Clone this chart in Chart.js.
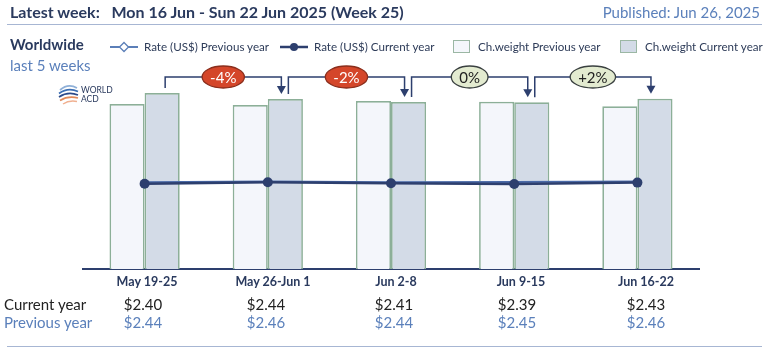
<!DOCTYPE html>
<html>
<head>
  <meta charset="utf-8">
  <title>Worldwide last 5 weeks</title>
  <script src="https://cdn.jsdelivr.net/npm/chart.js"></script>
  <style>
    body{margin:0;background:#fff;font-family:Lato,"Open Sans",sans-serif;}
    #wrap{position:relative;width:770px;height:354px;overflow:hidden;}
    #box{position:absolute;left:0;top:0;width:770px;height:354px;}
    .t{position:absolute;white-space:nowrap;line-height:1;}
    .navy{color:#2a3a5e;}
    .lb{color:#5b80bb;}
    .hr{position:absolute;left:7px;width:755px;height:0;border-top:1.5px solid #a7b6d3;}
    .lg{position:absolute;top:40px;font-size:11.6px;color:#2d3b58;display:flex;align-items:center;white-space:nowrap;}
    .sq{display:inline-block;width:15px;height:11px;border:1px solid #9bb7a4;margin-right:8px;}
    .col{position:absolute;transform:translateX(-50%);white-space:nowrap;line-height:1;}
  </style>
</head>
<body>
<div id="wrap">
  <div id="box"><canvas id="chart"></canvas></div>

  <div class="t navy" style="left:10px;top:4px;font-size:16px;font-weight:bold;">Latest week:&nbsp;&nbsp; Mon 16 Jun - Sun 22 Jun 2025 (Week 25)</div>
  <div class="t lb" style="right:10px;top:5px;font-size:15px;">Published: Jun 26, 2025</div>
  <div class="hr" style="top:24px;"></div>

  <div class="t navy" style="left:10px;top:37px;font-size:15px;font-weight:bold;">Worldwide</div>
  <div class="t lb" style="left:10px;top:58px;font-size:15px;">last 5 weeks</div>

  <div class="lg" style="left:110px;">
    <svg width="28" height="12" style="margin-right:6px"><line x1="0" y1="6" x2="28" y2="6" stroke="#5b7fb8" stroke-width="2"/><path d="M14 1.5 L18.5 6 L14 10.5 L9.5 6 Z" fill="#fff" stroke="#5b7fb8" stroke-width="1.3"/></svg>Rate (US$) Previous year
  </div>
  <div class="lg" style="left:280px;">
    <svg width="28" height="12" style="margin-right:6px"><line x1="0" y1="6" x2="28" y2="6" stroke="#2d3f6e" stroke-width="2.5"/><circle cx="14" cy="6" r="4" fill="#2d3f6e"/></svg>Rate (US$) Current year
  </div>
  <div class="lg" style="left:453px;"><span class="sq" style="background:#f4f6fb"></span>Ch.weight Previous year</div>
  <div class="lg" style="left:620px;"><span class="sq" style="background:#d3dbe7"></span>Ch.weight Current year</div>

  <svg class="t" style="left:57px;top:83px" width="60" height="24">
    <path d="M3 7 Q11 0 20 5" fill="none" stroke="#8fb0d8" stroke-width="1.7"/>
    <path d="M2 10.5 Q11 4 21 8.5" fill="none" stroke="#3b6fb4" stroke-width="1.7"/>
    <path d="M2 14 Q11 8 21 12" fill="none" stroke="#2a4a8a" stroke-width="1.7"/>
    <path d="M3 17.5 Q11 12.5 21 15" fill="none" stroke="#e08a5a" stroke-width="1.7"/>
    <path d="M6 21 Q12 17 20 18.5" fill="none" stroke="#f0b090" stroke-width="1.5"/>
    <text x="24" y="10" font-size="8.5" font-family="Lato" fill="#2a3a5e">WORLD</text>
    <text x="24" y="19" font-size="8.5" font-family="Lato" fill="#2a3a5e">ACD</text>
  </svg>

  <div id="table"></div>
  <div class="hr" style="top:346px;"></div>
</div>

<script>
  const weeks = ["May 19-25", "May 26-Jun 1", "Jun 2-8", "Jun 9-15", "Jun 16-22"];
  const rateCurrent = [2.40, 2.44, 2.41, 2.39, 2.43];
  const ratePrevious = [2.44, 2.46, 2.44, 2.45, 2.46];
  // chargeable weight, relative index (no axis shown)
  const weightCurrent = [176, 170, 167, 166.7, 170.3];
  const weightPrevious = [165, 164, 168, 167.3, 162.7];
  const weekChange = ["-4%", "-2%", "0%", "+2%"];

  const NAVY = "#2d3f6e";

  // table under the chart
  const headX = [147, 273, 396, 521, 646];
  const valX = [143, 266, 394, 517, 646];
  let html = '<div class="t" style="left:4px;top:297px;font-size:15px;color:#222">Current year</div>' +
             '<div class="t lb" style="left:4px;top:315px;font-size:15px">Previous year</div>';
  weeks.forEach((w, i) => {
    html += `<div class="col navy" style="left:${headX[i]}px;top:276px;font-size:12.5px;font-weight:bold">${w}</div>`;
    html += `<div class="col" style="left:${valX[i]}px;top:297px;font-size:15px;color:#222">$${rateCurrent[i].toFixed(2)}</div>`;
    html += `<div class="col lb" style="left:${valX[i]}px;top:315px;font-size:15px">$${ratePrevious[i].toFixed(2)}</div>`;
  });
  document.getElementById("table").innerHTML = html;

  // week-on-week brackets with arrows and badges
  const brackets = {
    id: "brackets",
    afterDatasetsDraw(chart) {
      const ctx = chart.ctx;
      const bars = chart.getDatasetMeta(3).data;
      const yTop = chart.chartArea.top;
      ctx.save();
      for (let i = 0; i < bars.length - 1; i++) {
        const a = bars[i], b = bars[i + 1];
        const x1 = a.x + 3, x2 = b.x - 4;
        ctx.strokeStyle = NAVY; ctx.lineWidth = 1.5;
        ctx.beginPath();
        ctx.moveTo(x1, a.y - 5);
        ctx.lineTo(x1, yTop);
        ctx.lineTo(x2, yTop);
        ctx.lineTo(x2, b.y - 12);
        ctx.stroke();
        ctx.fillStyle = NAVY;
        ctx.beginPath();
        ctx.moveTo(x2 - 4.5, b.y - 13);
        ctx.lineTo(x2 + 4.5, b.y - 13);
        ctx.lineTo(x2, b.y - 5);
        ctx.closePath(); ctx.fill();

        const txt = weekChange[i];
        const neg = txt.startsWith("-");
        ctx.font = "15px Lato";
        const tw = ctx.measureText(txt).width;
        const cx = (x1 + x2) / 2;
        ctx.beginPath();
        ctx.ellipse(cx, yTop, tw / 2 + 8, 11, 0, 0, Math.PI * 2);
        ctx.fillStyle = neg ? "#d4462a" : "#e3ebd0";
        ctx.fill();
        ctx.lineWidth = 1.3;
        ctx.strokeStyle = neg ? "#8a2e1c" : "#3a4040";
        ctx.stroke();
        ctx.fillStyle = neg ? "#fff" : "#222";
        ctx.textAlign = "center"; ctx.textBaseline = "middle";
        ctx.fillText(txt, cx, yTop + 1);
      }
      ctx.restore();
    }
  };

  new Chart(document.getElementById("chart"), {
    type: "bar",
    data: {
      labels: weeks,
      datasets: [
        { type: "line", label: "Rate (US$) Current year", data: rateCurrent, yAxisID: "yR", order: 0,
          borderColor: NAVY, borderWidth: 2.5, pointRadius: 5, pointBackgroundColor: NAVY, pointBorderWidth: 0, tension: 0 },
        { type: "line", label: "Rate (US$) Previous year", data: ratePrevious, yAxisID: "yR", order: 1,
          borderColor: "#4a6aa8", borderWidth: 2, pointRadius: 0, tension: 0 },
        { label: "Ch.weight Previous year", data: weightPrevious, yAxisID: "yW", order: 2,
          backgroundColor: "#f4f6fb", borderColor: "#8caf98", borderWidth: 1.7 },
        { label: "Ch.weight Current year", data: weightCurrent, yAxisID: "yW", order: 3,
          backgroundColor: "#d3dbe7", borderColor: "#8caf98", borderWidth: 1.7 }
      ]
    },
    options: {
      responsive: true,
      maintainAspectRatio: false,
      animation: false,
      layout: { padding: { left: 83, right: 71, top: 77, bottom: 85 } },
      plugins: { legend: { display: false }, tooltip: { enabled: false } },
      datasets: { bar: { categoryPercentage: 0.57, barPercentage: 1 } },
      scales: {
        x: { grid: { display: false, drawTicks: false }, ticks: { display: false },
             border: { display: true, color: NAVY, width: 2 } },
        yW: { display: false, min: 0, max: 192 },
        yR: { display: false, min: 0, max: 5.4 }
      }
    },
    plugins: [brackets]
  });
</script>
</body>
</html>
